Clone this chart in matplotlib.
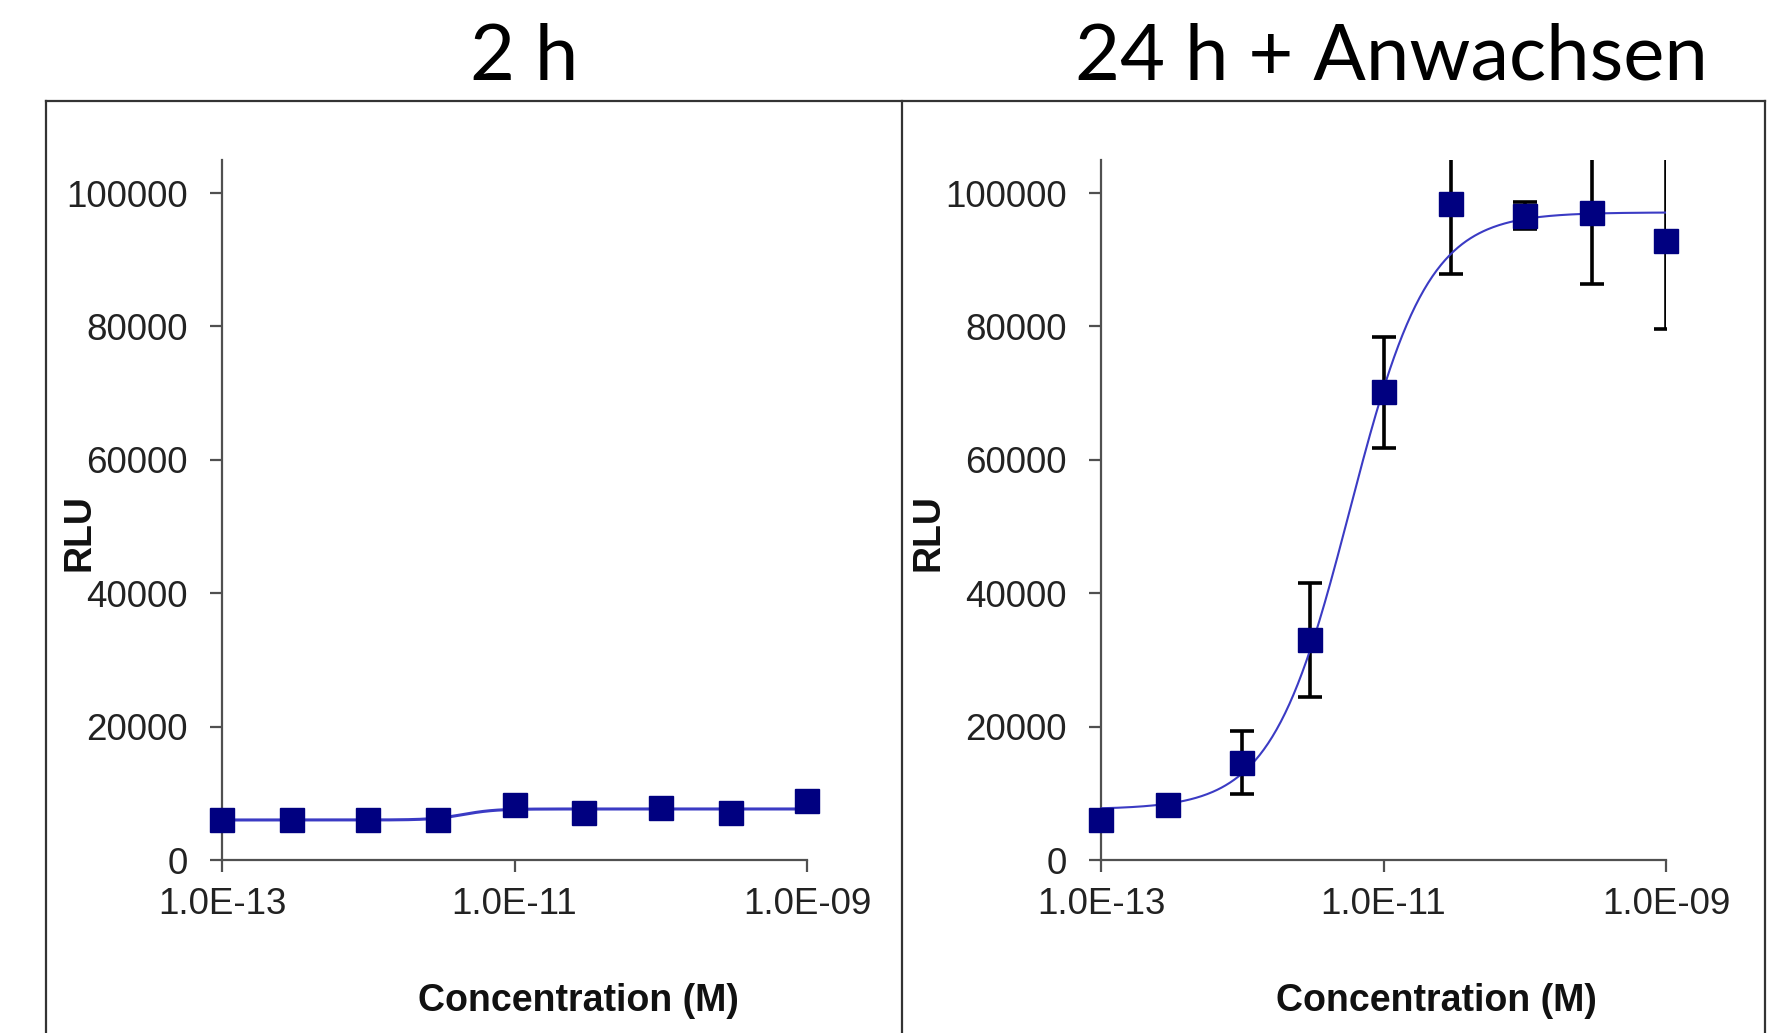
import numpy as np
import matplotlib
matplotlib.use('Agg')
import matplotlib.pyplot as plt
from matplotlib.lines import Line2D

# Data
conc = [1e-13, 3e-13, 1e-12, 3e-12, 1e-11, 3e-11, 1e-10, 3e-10, 1e-9]

rlu_2h = [6000, 6000, 6000, 6000, 8250, 7000, 7750, 7000, 8900]

rlu_24h = [6000, 8250, 14600, 33000, 70100, 98400, 96600, 97000, 92750]
err_24h = [500, 1500, 4700, 8500, 8300, 10600, 2000, 10700, 13100]

# fitted 4-parameter logistic curves (bottom, top, logEC50, hill)
fit_2h = (6000, 7650, -11.35, 4.0)
fit_24h = (7600, 97100, -11.24, 1.57)

titles = ['2 h', '24 h + Anwachsen']
x_ticks = [1e-13, 1e-11, 1e-9]
x_ticklabels = ['1.0E-13', '1.0E-11', '1.0E-09']
y_ticks = [0, 20000, 40000, 60000, 80000, 100000]

W, H = 1777, 1033
fig = plt.figure(figsize=(W / 100, H / 100), dpi=100)

MARKER = '#000080'
CURVE = '#3b3bc4'
AXCOL = '#505050'
TICKFONT = 'Liberation Sans'


def logistic(x, p):
    b, t, logec, h = p
    return b + (t - b) / (1 + 10 ** ((logec - np.log10(x)) * h))


def make_axes(x0, x1):
    y0, y1 = 860, 159.7
    ax = fig.add_axes([x0 / W, 1 - y0 / H, (x1 - x0) / W, (y0 - y1) / H])
    ax.set_xscale('log')
    ax.set_xlim(1e-13, 1e-9)
    ax.set_ylim(0, 105000)
    ax.set_xticks(x_ticks)
    ax.set_xticklabels(x_ticklabels)
    ax.xaxis.set_minor_locator(matplotlib.ticker.NullLocator())
    ax.set_yticks(y_ticks)
    ax.set_yticklabels([str(v) for v in y_ticks])
    for s in ['top', 'right']:
        ax.spines[s].set_visible(False)
    for s in ['left', 'bottom']:
        ax.spines[s].set_color(AXCOL)
        ax.spines[s].set_linewidth(1.6)
    ax.tick_params(axis='both', direction='out', length=8.5, width=1.6,
                   color=AXCOL, labelsize=26.5, labelcolor='#222222')
    ax.tick_params(axis='y', pad=16)
    ax.tick_params(axis='x', pad=11)
    for lab in ax.get_xticklabels() + ax.get_yticklabels():
        lab.set_family(TICKFONT)
    ax.set_facecolor('none')
    return ax


xs = np.logspace(-13, -9, 400)

# 2 h panel
ax1 = make_axes(222, 807)
ax1.plot(xs, logistic(xs, fit_2h), color=CURVE, lw=2.2, zorder=3)
ax1.plot(conc, rlu_2h, 's', color=MARKER, ms=17, zorder=4, clip_on=False)

# 24 h panel
ax2 = make_axes(1101, 1666)
ax2.errorbar(conc, rlu_24h, yerr=err_24h, fmt='none', ecolor='black',
             elinewidth=2.6, capsize=8.5, capthick=2.6, zorder=2)
ax2.plot(xs, logistic(xs, fit_24h), color=CURVE, lw=1.5, zorder=3)
ax2.plot(conc, rlu_24h, 's', color=MARKER, ms=17, zorder=4, clip_on=False)

# axis labels
for cx in [79, 929]:
    fig.text(cx / W, 1 - 533 / H, 'RLU', rotation=90, ha='center', va='center',
             fontsize=27, fontweight='bold', family=TICKFONT, color='#111111')
for cx in [578, 1436]:
    fig.text(cx / W, 1 - 1001 / H, 'Concentration (M)', ha='center', va='center',
             fontsize=27, fontweight='bold', family=TICKFONT, color='#111111')

# panel titles
for cx, t in zip([524, 1391], titles):
    fig.text(cx / W, 1 - 80 / H, t, ha='center', va='baseline',
             fontsize=56, family='Lato', color='black')

# frame around the two panels
frame = dict(color='#333333', lw=1.6, transform=fig.transFigure)
fig.add_artist(Line2D([46 / W, 1765 / W], [1 - 101 / H, 1 - 101 / H], **frame))
for xx in [46, 902, 1765]:
    fig.add_artist(Line2D([xx / W, xx / W], [1 - 101 / H, 0], **frame))

fig.savefig('out.png', dpi=100)
